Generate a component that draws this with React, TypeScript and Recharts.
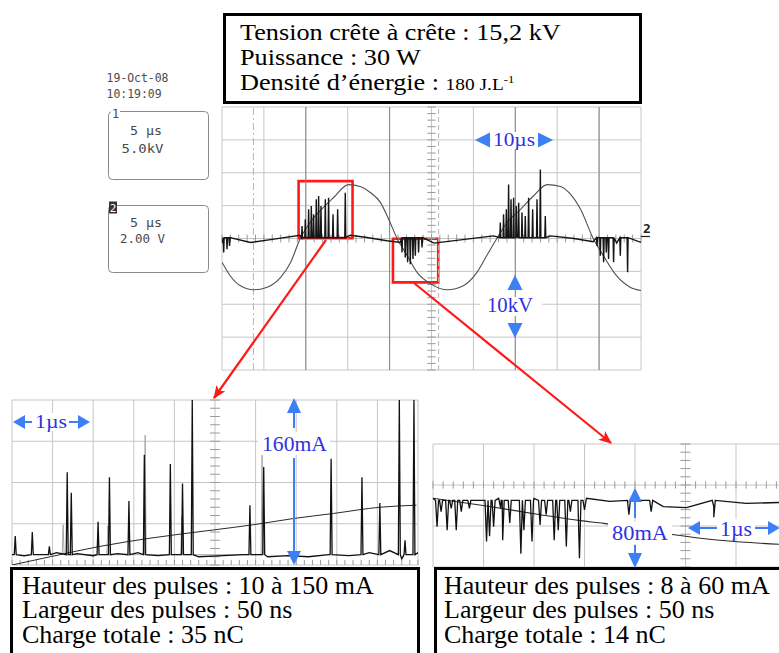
import React from "react";
import {
  ComposedChart, Line, XAxis, YAxis, CartesianGrid, ReferenceLine, ReferenceArea,
} from "recharts";

// ---------- oscillogramme principal : 5 µs/div, voie 1 = 5 kV/div, voie 2 = 2 V/div
const MAIN_T = [0, 5, 10, 15, 20, 25, 30, 35, 40, 45, 50];
const MAIN_KV = [-20, -15, -10, -5, 0, 5, 10, 15, 20];
const MAIN_DARK = [10, 20, 35, 45];

// voie 1 : tension (µs, kV)
const voie1Tension = [
  [0, -3.6], [1, -5.7], [2.2, -7.2], [3.8, -7.8], [5.4, -7.4], [7, -5.9], [8.2, -3.6],
  [9.3, -0.1], [10.5, 2.4], [11.7, 4.2], [13.3, 6.2], [15.1, 8.2], [16.5, 7.9], [17.7, 7],
  [18.9, 5.5], [19.9, 2.9], [20.9, 0], [22.1, -2.6], [23.3, -5.2], [24.9, -6.9], [26.9, -7.8],
  [28.8, -7.2], [30.4, -5.2], [31.6, -2.6], [32.8, 0], [34, 2.4], [35.6, 4.4], [37.2, 6.5],
  [38.8, 8.2], [40.4, 7.9], [41.6, 6.7], [42.8, 4.4], [44.3, 0], [45.5, -2.6], [47.1, -5.7],
  [48.7, -7.4], [50, -7.9],
];
// voie 2 : courant (µs, V) - ligne de base + pulses
const voie2Base = [
  [0, -0.28], [3.4, -0.24], [6.2, -0.04], [9.3, 0.2], [13.3, 0.26], [15.3, 0.2], [17.3, 0.06],
  [19.7, -0.14], [21.3, -0.24], [25.3, -0.28], [29.2, -0.04], [32.4, 0.16], [35.2, 0.22],
  [39.2, 0.16], [42, 0], [44.3, -0.2], [47.1, -0.28], [50, -0.24],
];
const voie2PulsesPos = [
  [9.55, 0.76], [9.94, 1.17], [10.34, 1.78], [10.66, 1.98], [10.93, 1.47], [11.25, 2.38],
  [11.53, 2.58], [11.81, 1.98], [12.33, 2.38], [12.72, 2.48], [13.25, 1.47], [13.8, 1.78],
  [14.71, 2.79],
  [33.21, 0.97], [33.6, 1.47], [33.93, 1.78], [34.2, 3.29], [34.49, 2.38], [34.8, 2.48],
  [35.12, 1.98], [35.4, 2.18], [35.8, 1.58], [36.19, 1.37], [36.59, 2.48], [37.07, 1.78],
  [37.59, 2.38], [37.99, 4.2], [38.58, 1.37],
];
const voie2PulsesNeg = [
  [0.2, -0.85], [0.6, -0.65], [0.9, -0.45],
  [21.48, -0.85], [21.87, -1.15], [22.15, -1.45], [22.47, -1.56], [22.79, -1.25], [23.07, -1.05],
  [23.46, -0.85], [23.87, -0.55],
  [44.75, -0.45], [45.14, -1.05], [45.54, -1.45], [45.86, -0.85], [46.13, -1.25], [46.73, -1.45],
  [47.53, -1.05], [48.4, -2.06],
];

// ---------- zoom alternance positive (µs, mA)
const ZL_T = [0, 0.5, 1, 1.5, 2, 2.5, 3, 3.5, 4, 4.5, 5];
const ZL_MA = [0, 40, 80, 120, 160];
const zlBase = [
  [0, 10], [0.15, 9], [0.35, 10], [0.55, 12], [0.8, 11], [1.0, 9], [1.3, 11], [1.55, 12],
  [1.8, 9], [2.05, 10], [2.3, 8], [2.6, 9], [2.85, 10], [3.15, 8], [3.4, 9], [3.65, 8],
  [3.9, 10], [4.15, 9], [4.4, 12], [4.65, 14], [4.8, 6], [5, 12],
];
const zlPulses = [
  [0.04, 28], [0.25, 32], [0.46, 18], [0.68, 90], [0.73, 70], [1.06, 42], [1.2, 85], [1.44, 62],
  [1.63, 107], [1.95, 98], [2.1, 79], [2.22, 160], [2.93, 58], [3.1, 95], [3.93, 103],
  [4.31, 85], [4.53, 60], [4.77, 160], [4.84, 24], [4.95, 160],
];
const zlPersistance = [
  [0.63, 39], [1.18, 38], [1.64, 126], [2.09, 47], [3.08, 111],
];
const zlTension = [
  [0, 0], [0.47, 8], [1.08, 18], [1.7, 26], [2.48, 34], [2.97, 39], [3.46, 45], [3.96, 50],
  [4.53, 56], [4.98, 58],
];

// ---------- zoom alternance négative (µs, mA)
const ZR_T = [0, 0.5, 1, 1.5, 2, 2.5, 3, 3.5, 4, 4.5, 5];
const ZR_MA = [-80, -40, 0, 40];
const zrBase = [
  [0, -13], [0.3, -15], [0.65, -13], [1.0, -13], [1.3, -15], [1.52, -13], [1.75, -16],
  [1.95, -19], [2.28, -21], [2.51, -22], [2.78, -21], [3.1, -18], [3.45, -17],
];
const zrPulses = [
  [0.04, -40.7], [0.08, -26], [0.14, -44], [0.18, -22.7], [0.23, -44], [0.28, -26], [0.36, -22.7],
  [0.53, -55], [0.56, -50], [0.6, -40.7], [0.67, -22.7], [0.69, -54], [0.76, -37], [0.87, -67],
  [0.9, -44], [0.98, -55], [1.06, -39], [1.12, -29], [1.2, -54], [1.24, -44], [1.32, -60],
  [1.36, -26], [1.45, -71.5], [1.5, -24.4], [1.94, -29], [2.16, -26], [2.78, -31.5],
];
const zrTension = [
  [0, -13], [0.53, -20.5], [1.06, -29], [1.46, -34.8], [1.69, -37.4], [2.35, -48],
  [2.81, -53.7], [3.45, -58],
];

// ---------- helpers
const toPts = (arr: number[][]) => arr.map(([t, v]) => ({ t, v }));
const withPulses = (base: number[][], pulses: number[][], foot: number, hw: number) => {
  const pts = toPts(base);
  pulses.forEach(([t, p]) => pts.push({ t: t - hw, v: foot }, { t, v: p }, { t: t + hw, v: foot }));
  return pts.sort((a, b) => a.t - b.t);
};
const pulsesOnly = (pulses: number[][], foot: number, hw: number) =>
  pulses.flatMap(([t, p]) => [{ t: t - hw, v: foot }, { t, v: p }, { t: t + hw, v: foot }]);
const steps = (a: number, b: number, s: number) =>
  Array.from({ length: Math.round((b - a) / s) + 1 }, (_, i) => +(a + i * s).toFixed(3));

const mainV1 = toPts(voie1Tension);
const mainV2 = withPulses(voie2Base, [...voie2PulsesPos, ...voie2PulsesNeg], 0.05, 0.06);
const zlCourant = withPulses(zlBase, zlPulses, 10, 0.012);
const zlGhost = pulsesOnly(zlPersistance, 10, 0.012);
const zrCourant = withPulses(zrBase, zrPulses, -15, 0.015);

const M1 = { top: 1, right: 1, bottom: 1, left: 1 };
const GRID = "#c6c6c6";
const TICK = "#9a9a9a";
const RED = "#ff1a1a";
const BLUE = "#3d7ff5";
const BLUE_TXT = "#3030e4";
const SERIF = "'Liberation Serif', 'Times New Roman', serif";
const MONO = "'DejaVu Sans Mono', monospace";

function MainScope() {
  return (
    <ComposedChart width={421} height={265} margin={M1}>
      <CartesianGrid stroke={GRID} />
      <XAxis type="number" dataKey="t" domain={[0, 50]} ticks={MAIN_T} interval={0} hide allowDataOverflow />
      <YAxis type="number" domain={[-20, 20]} ticks={MAIN_KV} interval={0} hide />
      <YAxis yAxisId="v" type="number" domain={[-8, 8]} hide />
      {MAIN_DARK.map((t) => <ReferenceLine key={"d" + t} x={t} stroke="#858585" />)}
      <ReferenceLine x={3.75} stroke="#b4b4b4" strokeDasharray="7 3 2 3" />
      <ReferenceLine x={25.85} stroke="#b4b4b4" strokeDasharray="5 3" />
      {steps(0, 50, 1).map((t) => (
        <ReferenceLine key={"h" + t} segment={[{ x: t, y: -0.6 }, { x: t, y: 0.6 }]} stroke={TICK} />
      ))}
      {steps(-20, 20, 1).map((k) => (
        <ReferenceLine key={"v" + k} segment={[{ x: 24.5, y: k }, { x: 25.5, y: k }]} stroke={TICK} />
      ))}
      <Line data={mainV1} dataKey="v" type="monotone" stroke="#505050" strokeWidth={1.1}
        dot={false} isAnimationActive={false} />
      <Line yAxisId="v" data={mainV2} dataKey="v" type="linear" stroke="#151515" strokeWidth={1.4}
        dot={false} isAnimationActive={false} />
      <ReferenceArea x1={9.14} x2={15.58} y1={0.05} y2={8.73} fill="none" fillOpacity={0}
        stroke={RED} strokeWidth={2.6} />
      <ReferenceArea x1={20.4} x2={25.8} y1={-6.67} y2={-0.03} fill="none" fillOpacity={0}
        stroke={RED} strokeWidth={2.6} />
    </ComposedChart>
  );
}

function ZoomPositive() {
  return (
    <ComposedChart width={408} height={167} margin={M1}>
      <CartesianGrid stroke={GRID} />
      <XAxis type="number" dataKey="t" domain={[0, 5]} ticks={ZL_T} interval={0} hide />
      <YAxis type="number" domain={[0, 160]} ticks={ZL_MA} interval={0} hide allowDataOverflow />
      {steps(0, 5, 0.1).map((t) => (
        <ReferenceLine key={"b" + t} segment={[{ x: t, y: 0 }, { x: t, y: 5 }]} stroke={TICK} />
      ))}
      {steps(0, 160, 8).map((k) => (
        <ReferenceLine key={"c" + k} segment={[{ x: 2.44, y: k }, { x: 2.56, y: k }]} stroke={TICK} />
      ))}
      <Line data={zlGhost} dataKey="v" type="linear" stroke="#a8a8a8" strokeWidth={1}
        dot={false} isAnimationActive={false} />
      <Line data={toPts(zlTension)} dataKey="v" type="monotone" stroke="#2a2a2a" strokeWidth={1}
        dot={false} isAnimationActive={false} />
      <Line data={zlCourant} dataKey="v" type="linear" stroke="#111" strokeWidth={1.3}
        dot={false} isAnimationActive={false} />
    </ComposedChart>
  );
}

function ZoomNegative() {
  return (
    <ComposedChart width={507} height={125} margin={M1}>
      <CartesianGrid stroke={GRID} />
      <XAxis type="number" dataKey="t" domain={[0, 5]} ticks={ZR_T} interval={0} hide />
      <YAxis type="number" domain={[-80, 40]} ticks={ZR_MA} interval={0} hide />
      {steps(0, 5, 0.1).map((t) => (
        <ReferenceLine key={"h" + t} segment={[{ x: t, y: -3.5 }, { x: t, y: 3.5 }]} stroke={TICK} />
      ))}
      {steps(-80, 40, 8).map((k) => (
        <ReferenceLine key={"c" + k} segment={[{ x: 2.45, y: k }, { x: 2.55, y: k }]} stroke={TICK} />
      ))}
      <Line data={toPts(zrTension)} dataKey="v" type="monotone" stroke="#2a2a2a" strokeWidth={1.1}
        dot={false} isAnimationActive={false} />
      <Line data={zrCourant} dataKey="v" type="linear" stroke="#111" strokeWidth={1.3}
        dot={false} isAnimationActive={false} />
    </ComposedChart>
  );
}

const boxText: React.CSSProperties = {
  fontFamily: SERIF, fontSize: 26, lineHeight: "24.5px", color: "#000", whiteSpace: "nowrap",
};

function Annotations() {
  const bg = "#fff";
  return (
    <svg width={779} height={653} style={{ position: "absolute", left: 0, top: 0 }}>
      <defs>
        <marker id="pointe" viewBox="0 0 12 10" refX="11" refY="5" markerWidth="6" markerHeight="5"
          orient="auto" markerUnits="strokeWidth">
          <path d="M0,0 L12,5 L0,10 L3,5 z" fill={RED} />
        </marker>
      </defs>

      {/* réglages oscilloscope */}
      <g fontFamily={MONO} fill="#4a4a4a" fontSize={12}>
        <text x={106.5} y={81.5} textLength={62} lengthAdjust="spacingAndGlyphs">19-Oct-08</text>
        <text x={106.5} y={98} textLength={55} lengthAdjust="spacingAndGlyphs">10:19:09</text>
        <rect x={108.5} y={111.5} width={100} height={68} rx={4} fill="none" stroke="#8a8a8a" />
        <rect x={111} y={106} width={9} height={12} fill={bg} />
        <text x={112} y={117.5}>1</text>
        <text x={130} y={135} textLength={32} lengthAdjust="spacingAndGlyphs">5 µs</text>
        <text x={121.5} y={152.5} textLength={42} lengthAdjust="spacingAndGlyphs">5.0kV</text>
        <rect x={108.5} y={205.5} width={100} height={67} rx={4} fill="none" stroke="#8a8a8a" />
        <rect x={109} y={201.5} width={8} height={12} fill="#333" />
        <text x={109.8} y={212} fontSize={11} fill="#fff">2</text>
        <text x={130} y={226.5} textLength={32} lengthAdjust="spacingAndGlyphs">5 µs</text>
        <text x={120} y={243} textLength={45} lengthAdjust="spacingAndGlyphs">2.00 V</text>
        <text x={643} y={233} fontWeight="bold" fill="#222" fontSize={13}>2</text>
        <line x1={641} y1={236.5} x2={650} y2={236.5} stroke="#222" strokeWidth={1.2} />
      </g>

      {/* flèches rouges */}
      <line x1={326} y1={240} x2={214} y2={398} stroke={RED} strokeWidth={2.2} markerEnd="url(#pointe)" />
      <line x1={414} y1={283} x2={611} y2={443} stroke={RED} strokeWidth={2.2} markerEnd="url(#pointe)" />

      {/* repères bleus */}
      <g fontFamily={SERIF} fill={BLUE_TXT}>
        {/* 10 µs */}
        <rect x={491} y={132} width={46} height={17} fill={bg} />
        <polygon points="475,140 490,132.5 490,147.5" fill={BLUE} />
        <polygon points="553,140 538,132.5 538,147.5" fill={BLUE} />
        <text x={493} y={146} fontSize={19} textLength={42} lengthAdjust="spacingAndGlyphs">10µs</text>
        {/* 10 kV */}
        <polygon points="515,275 507.5,290 522.5,290" fill={BLUE} />
        <polygon points="515,338 507.5,323 522.5,323" fill={BLUE} />
        <rect x={480} y={297} width={62} height={19} fill={bg} />
        <text x={487} y={312} fontSize={20} textLength={46} lengthAdjust="spacingAndGlyphs">10kV</text>
        {/* 1 µs gauche */}
        <rect x={33} y={413} width={36} height={18} fill={bg} />
        <polygon points="13,422 25,415 25,429" fill={BLUE} />
        <line x1={25} y1={422} x2={32} y2={422} stroke={BLUE} strokeWidth={2} />
        <text x={35} y={428} fontSize={19} textLength={32} lengthAdjust="spacingAndGlyphs">1µs</text>
        <line x1={69} y1={422} x2={78} y2={422} stroke={BLUE} strokeWidth={2} />
        <polygon points="90,422 78,415 78,429" fill={BLUE} />
        {/* 160 mA */}
        <polygon points="294,398 287,413 301,413" fill={BLUE} />
        <line x1={294} y1={413} x2={294} y2={428} stroke={BLUE} strokeWidth={2} />
        <rect x={258} y={432} width={72} height={23} fill={bg} />
        <text x={262} y={451} fontSize={22} textLength={65} lengthAdjust="spacingAndGlyphs">160mA</text>
        <line x1={294} y1={458} x2={294} y2={552} stroke={BLUE} strokeWidth={2} />
        <polygon points="294,565 287,551 301,551" fill={BLUE} />
        {/* 80 mA */}
        <polygon points="635,488 628,502 642,502" fill={BLUE} />
        <line x1={635} y1={502} x2={635} y2={518} stroke={BLUE} strokeWidth={2} />
        <rect x={608} y={522} width={64} height={22} fill={bg} />
        <text x={612} y={540} fontSize={20} textLength={56} lengthAdjust="spacingAndGlyphs">80mA</text>
        <line x1={635} y1={545} x2={635} y2={554} stroke={BLUE} strokeWidth={2} />
        <polygon points="635,568 628,553 642,553" fill={BLUE} />
        {/* 1 µs droite */}
        <rect x={717} y={519} width={38} height={19} fill={bg} />
        <polygon points="688,528 700,521 700,535" fill={BLUE} />
        <line x1={700} y1={528} x2={717} y2={528} stroke={BLUE} strokeWidth={2} />
        <text x={720} y={536} fontSize={20} textLength={32} lengthAdjust="spacingAndGlyphs">1µs</text>
        <line x1={755} y1={528} x2={768} y2={528} stroke={BLUE} strokeWidth={2} />
        <polygon points="780,528 768,521 768,535" fill={BLUE} />
      </g>
    </svg>
  );
}

export default function App() {
  return (
    <div style={{ position: "fixed", left: 0, top: 0, width: 779, height: 653, overflow: "hidden", background: "#fff" }}>
      <div style={{ position: "absolute", left: 221, top: 106 }}><MainScope /></div>
      <div style={{ position: "absolute", left: 11, top: 399 }}><ZoomPositive /></div>
      <div style={{ position: "absolute", left: 432, top: 443 }}><ZoomNegative /></div>

      {/* cartouche du haut */}
      <div style={{ position: "absolute", left: 223, top: 13, width: 419, height: 91, boxSizing: "border-box",
        border: "3px solid #000", background: "#fff" }}>
        <div style={{ position: "absolute", left: 14, top: 4, fontFamily: SERIF, fontSize: 23, lineHeight: "25px",
          whiteSpace: "nowrap", transform: "scaleX(1.14)", transformOrigin: "0 0" }}>
          <div>Tension crête à crête : 15,2 kV</div>
          <div>Puissance : 30 W</div>
          <div>Densité d’énergie : <span style={{ fontSize: 17 }}>180 J.L<span style={{ fontSize: 11, position: "relative", top: -7 }}>-1</span></span></div>
        </div>
      </div>

      {/* cartouches du bas */}
      <div style={{ position: "absolute", left: 10, top: 567, width: 410, height: 100, boxSizing: "border-box",
        border: "3px solid #000", background: "#fff", padding: "3.5px 0 0 9px", ...boxText }}>
        <div>Hauteur des pulses : 10 à 150 mA</div>
        <div>Largeur des pulses : 50 ns</div>
        <div>Charge totale : 35 nC</div>
      </div>
      <div style={{ position: "absolute", left: 434, top: 567, width: 400, height: 100, boxSizing: "border-box",
        border: "3px solid #000", background: "#fff", padding: "3.5px 0 0 7px", ...boxText }}>
        <div>Hauteur des pulses : 8 à 60 mA</div>
        <div>Largeur des pulses : 50 ns</div>
        <div>Charge totale : 14 nC</div>
      </div>

      <Annotations />
    </div>
  );
}
